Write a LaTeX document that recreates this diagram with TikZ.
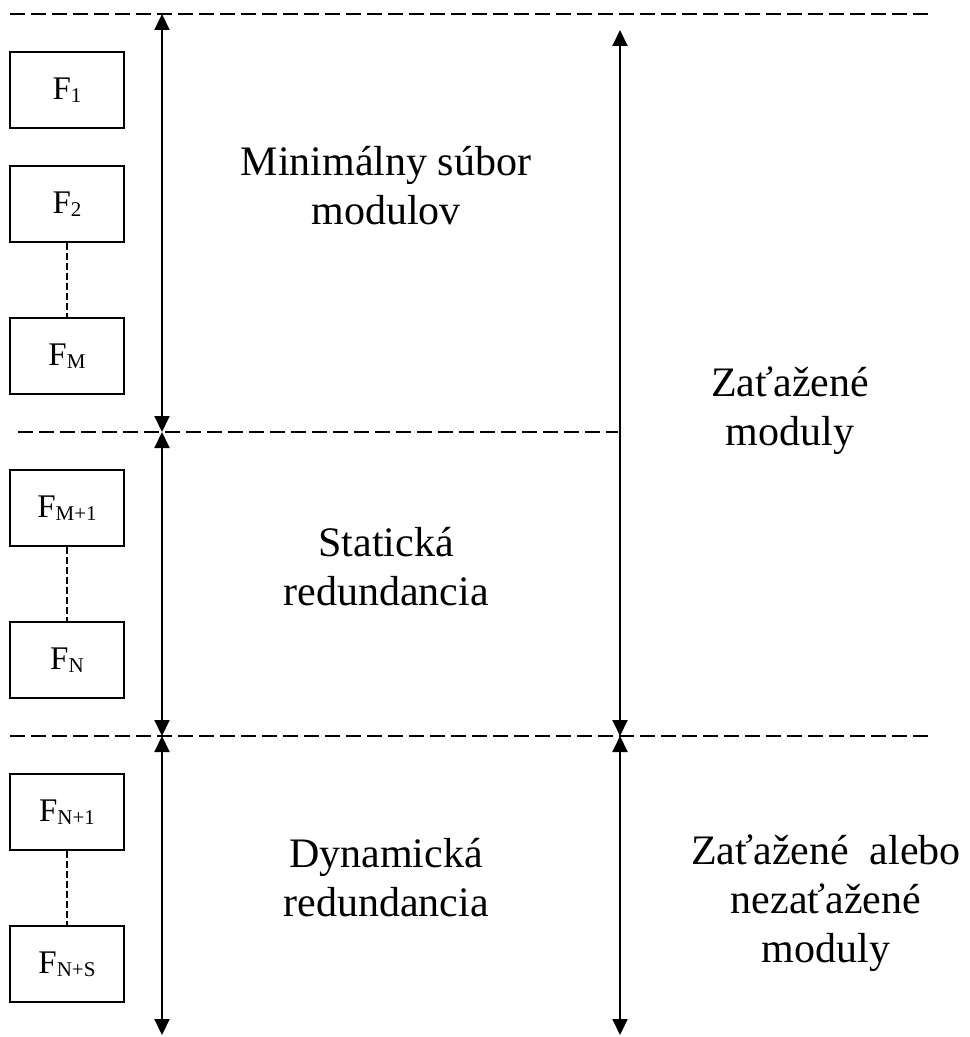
\documentclass[tikz,border=0pt]{standalone}
\usepackage{fontspec}
\setmainfont{Liberation Serif}
\usetikzlibrary{arrows.meta}
\newcommand{\idx}[1]{\raisebox{-1.5pt}{\fontsize{10.5}{12}\selectfont #1}}

\begin{document}
\begin{tikzpicture}[x=0.5pt,y=-0.5pt,
    modul/.style={draw,line width=1pt,minimum width=57pt,minimum height=38pt,inner sep=0pt,
      font=\fontsize{16.5}{19}\selectfont},
    hranica/.style={line width=0.9pt,dash pattern=on 7.5pt off 3pt},
    spoj/.style={line width=0.75pt,dash pattern=on 3.5pt off 1.5pt},
    sipka/.style={line width=1pt,{Triangle[width=7.5pt,length=8pt]}-{Triangle[width=7.5pt,length=8pt]}},
    popis/.style={align=center,inner sep=0pt,font=\fontsize{21}{24.5}\selectfont}]
  \useasboundingbox (0,0) rectangle (969,1037);

  % hranice medzi skupinami
  \coordinate (h1l) at (10,14);
  \coordinate (h1r) at (928,14);
  \coordinate (h2l) at (18,432);
  \coordinate (h2r) at (618,432);
  \coordinate (h3l) at (10,736);
  \coordinate (h3r) at (928,736);

  \draw [hranica] (h1l) -- (h1r);
  \draw [hranica] (h2l) -- (h2r);
  \draw [hranica] (h3l) -- (h3r);

  % moduly
  \node [modul] (f1) at (67,90) {F\idx{1}};
  \node [modul] (f2) at (67,204) {F\idx{2}};
  \node [modul] (fm) at (67,356) {F\idx{M}};
  \node [modul] (fm1) at (67,508) {F\idx{M+1}};
  \node [modul] (fn) at (67,660) {F\idx{N}};
  \node [modul] (fn1) at (67,812) {F\idx{N+1}};
  \node [modul] (fns) at (67,964) {F\idx{N+S}};

  \draw [spoj] (f2) -- (fm);
  \draw [spoj] (fm1) -- (fn);
  \draw [spoj] (fn1) -- (fns);

  % sipky
  \coordinate (a1) at (162,14);
  \coordinate (a2) at (162,432);
  \coordinate (a3) at (162,736);
  \coordinate (a4) at (162,1035);
  \coordinate (b1) at (620,30);
  \coordinate (b2) at (620,736);
  \coordinate (b3) at (620,1035);

  \draw [sipka] (a1) -- (a2);
  \draw [sipka] (a2) -- (a3);
  \draw [sipka] (a3) -- (a4);
  \draw [sipka] (b1) -- (b2);
  \draw [sipka] (b2) -- (b3);

  % popisy (base = posledny riadok)
  \node [popis,anchor=base] (minimalny) at (386,225) {Minimálny súbor\\modulov};
  \node [popis,anchor=base] (staticka) at (386,605) {Statická\\redundancia};
  \node [popis,anchor=base] (dynamicka) at (386,916) {Dynamická\\redundancia};
  \node [popis,anchor=base] (zatazene) at (790,445) {Zaťažené\\moduly};
  \node [popis,anchor=base] (nezatazene) at (826,962) {Zaťažené\ \ alebo\\nezaťažené\\moduly};
\end{tikzpicture}
\end{document}
